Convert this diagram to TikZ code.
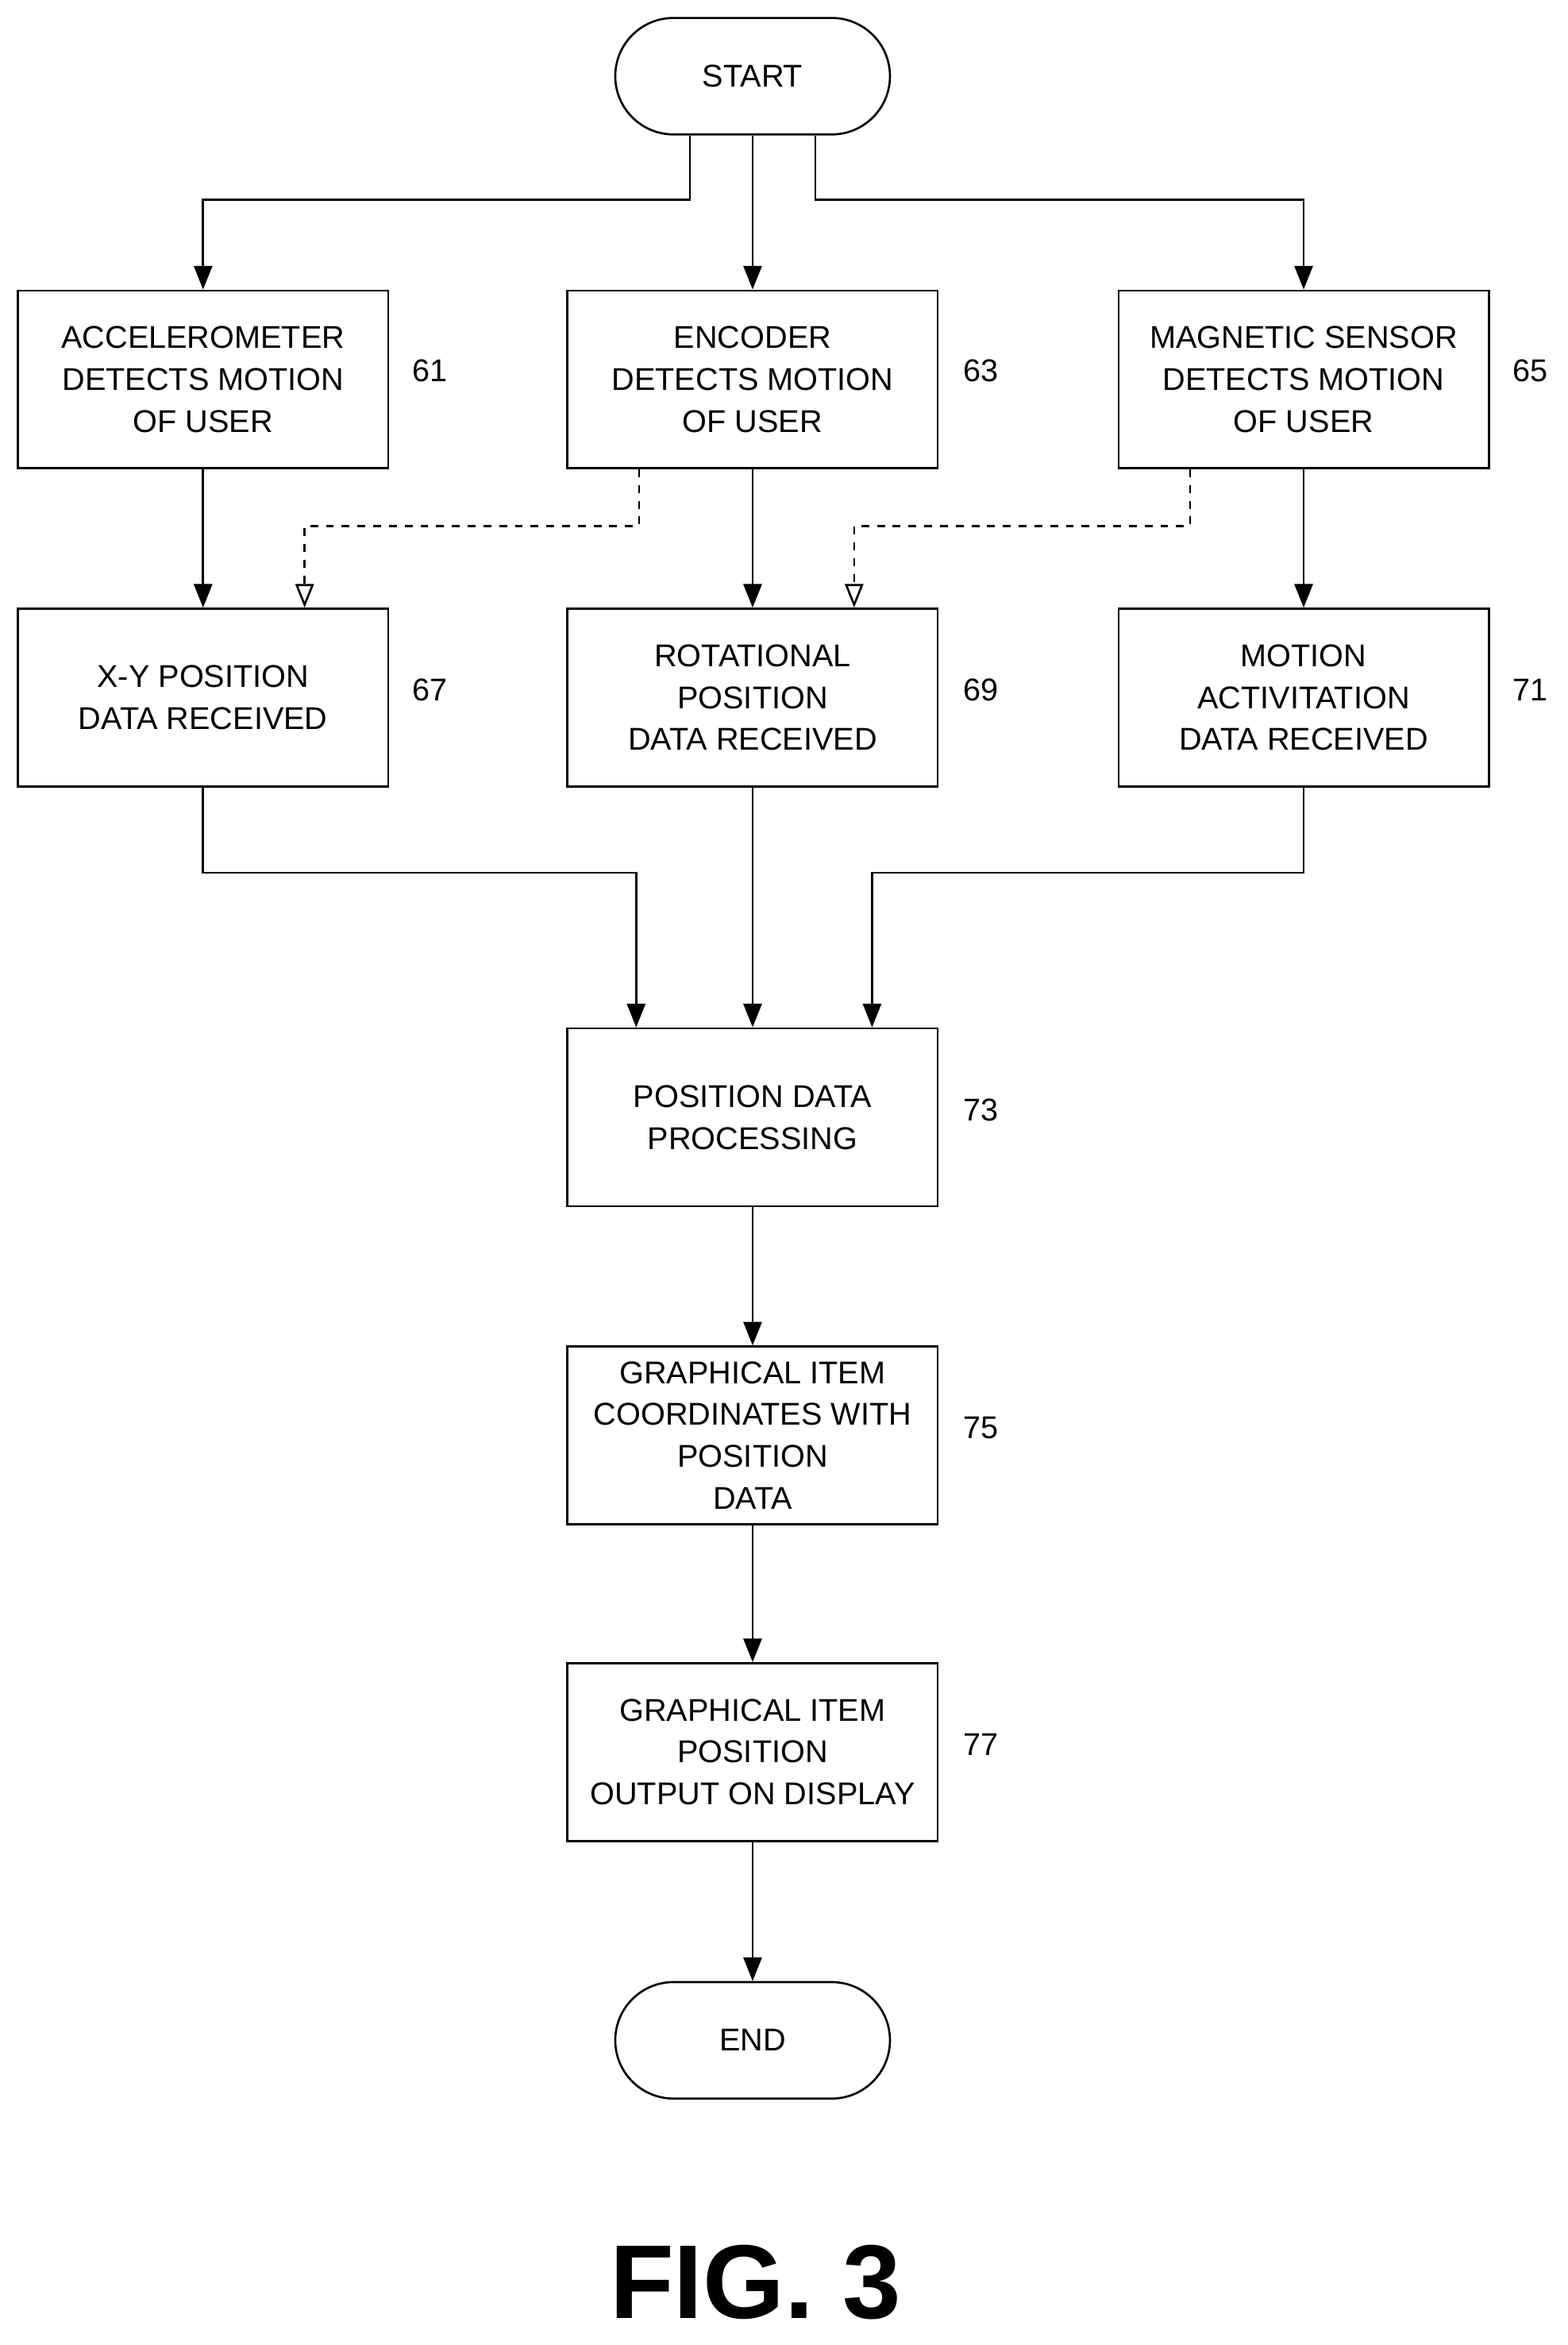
\documentclass[tikz,border=0pt]{standalone}
\usepackage{fontspec}
\setmainfont{Liberation Sans}
\usetikzlibrary{arrows.meta}
\tikzset{
  box/.style={draw,thick,minimum width=4.96cm,minimum height=2.38cm,align=center,
    font=\fontsize{12}{16}\selectfont,inner sep=1pt},
  term/.style={draw,thick,minimum width=3.68cm,minimum height=1.56cm,rounded corners=0.78cm,
    font=\fontsize{12}{16}\selectfont},
  ref/.style={font=\fontsize{12}{16}\selectfont},
  arr/.style={thick,-{Triangle[length=9pt,width=7pt]}},
  darr/.style={thick,dashed,-{Triangle[open,length=9pt,width=7pt]}}
}
\begin{document}
\begin{tikzpicture}[x=0.02cm,y=-0.02cm]
    \useasboundingbox (0,0) rectangle (1050,1570);
    \node[term] (start) at (504,51) {START};
    \node[box] (acc) at (136,254) {ACCELEROMETER\\DETECTS MOTION\\OF USER};
    \node[box] (enc) at (504,254) {ENCODER\\DETECTS MOTION\\OF USER};
    \node[box] (mag) at (873,254) {MAGNETIC SENSOR\\DETECTS MOTION\\OF USER};
    \node[box] (xy) at (136,467) {X-Y POSITION\\DATA RECEIVED};
    \node[box] (rot) at (504,467) {ROTATIONAL\\POSITION\\DATA RECEIVED};
    \node[box] (act) at (873,467) {MOTION\\ACTIVITATION\\DATA RECEIVED};
    \node[box] (proc) at (504,748) {POSITION DATA\\PROCESSING};
    \node[box] (coord) at (504,961) {GRAPHICAL ITEM\\COORDINATES WITH\\POSITION\\DATA};
    \node[box] (out) at (504,1173) {GRAPHICAL ITEM\\POSITION\\OUTPUT ON DISPLAY};
    \node[term] (end) at (504,1366) {END};
    \node[ref] (r61) at (288,248) {61};
    \node[ref] (r63) at (657,248) {63};
    \node[ref] (r65) at (1025,248) {65};
    \node[ref] (r67) at (288,462) {67};
    \node[ref] (r69) at (657,462) {69};
    \node[ref] (r71) at (1025,462) {71};
    \node[ref] (r73) at (657,743) {73};
    \node[ref] (r75) at (657,956) {75};
    \node[ref] (r77) at (657,1168) {77};
    \node[font=\bfseries\fontsize{40}{44}\selectfont] (fig) at (506,1528) {FIG. 3};
    \draw [arr] ([xshift=-0.84cm]start.south) -- ++(0,43) -| (acc);
    \draw [arr] (start) -- (enc);
    \draw [arr] ([xshift=0.84cm]start.south) -- ++(0,43) -| (mag);
    \draw [arr] (acc) -- (xy);
    \draw [arr] (enc) -- (rot);
    \draw [arr] (mag) -- (act);
    \draw [darr] ([xshift=-1.52cm]enc.south) -- ++(0,38) -| ([xshift=1.36cm]xy.north);
    \draw [darr] ([xshift=-1.52cm]mag.south) -- ++(0,38) -| ([xshift=1.36cm]rot.north);
    \draw [arr] (xy.south) -- ++(0,57) -| ([xshift=-1.56cm]proc.north);
    \draw [arr] (rot) -- (proc);
    \draw [arr] (act.south) -- ++(0,57) -| ([xshift=1.6cm]proc.north);
    \draw [arr] (proc) -- (coord);
    \draw [arr] (coord) -- (out);
    \draw [arr] (out) -- (end);
\end{tikzpicture}
\end{document}
